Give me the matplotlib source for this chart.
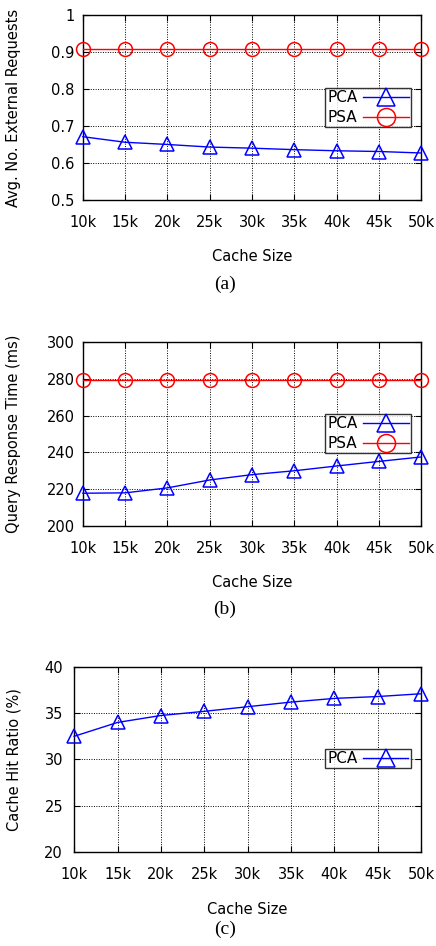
import matplotlib
matplotlib.use('Agg')
import matplotlib.pyplot as plt

cache_labels = ['10k', '15k', '20k', '25k', '30k', '35k', '40k', '45k', '50k']
cache_sizes = [10, 15, 20, 25, 30, 35, 40, 45, 50]

# (a) average number of external requests
ext_pca = [0.671, 0.656, 0.650, 0.643, 0.640, 0.636, 0.633, 0.631, 0.627]
ext_psa = [0.909, 0.909, 0.909, 0.909, 0.909, 0.909, 0.909, 0.909, 0.909]

# (b) query response time (ms)
qrt_pca = [217.8, 218.0, 220.7, 225.0, 227.9, 230.0, 232.6, 235.1, 237.5]
qrt_psa = [279.5, 279.5, 279.5, 279.5, 279.5, 279.5, 279.5, 279.5, 279.5]

# (c) cache hit ratio (%)
hit_pca = [32.5, 34.0, 34.75, 35.2, 35.7, 36.2, 36.6, 36.8, 37.1]

BLUE = '#0000ff'
RED = '#ff0000'

plt.rcParams['font.family'] = ['DejaVu Sans']

fig = plt.figure(figsize=(4.36, 9.46), dpi=100)


def style_axes(ax, ylim, yticks, ypad):
    ax.set_xlim(10, 50)
    ax.set_xticks(cache_sizes)
    ax.set_xticklabels(cache_labels)
    ax.set_ylim(*ylim)
    ax.set_yticks(yticks)
    ax.grid(True, color='black', linestyle=(0, (1, 1.5)), linewidth=0.7)
    ax.tick_params(direction='in', top=True, right=True, length=4,
                   labelsize=10.5, width=0.8)
    ax.tick_params(axis='x', pad=11)
    ax.tick_params(axis='y', pad=ypad)
    for s in ax.spines.values():
        s.set_linewidth(1.0)
    ax.set_xlabel('Cache Size', fontsize=10.5)
    ax.xaxis.set_label_coords(0.5, -0.265)


def add_legend(ax, top):
    leg = ax.legend(loc='upper right', bbox_to_anchor=(0.97, top),
                    markerfirst=False, frameon=True, fancybox=False,
                    edgecolor='black', fontsize=11, handlelength=3.0,
                    handletextpad=0.35, borderpad=0.15, labelspacing=0.3,
                    borderaxespad=0.0, markerscale=1.3)
    leg.get_frame().set_linewidth(1.0)
    return leg


# panel (a)
ax1 = fig.add_axes([0.190, 0.7886, 0.776, 0.1956])
ax1.plot(cache_sizes, ext_pca, color=BLUE, lw=1.0, marker='^', ms=10,
         mfc='none', mec=BLUE, mew=1.1, label='PCA', clip_on=False, zorder=3)
ax1.plot(cache_sizes, ext_psa, color=RED, lw=1.0, marker='o', ms=10,
         mfc='none', mec=RED, mew=1.1, label='PSA', clip_on=False, zorder=3)
style_axes(ax1, (0.5, 1.0), [0.5, 0.6, 0.7, 0.8, 0.9, 1.0], 6)
ax1.set_yticklabels(['0.5', '0.6', '0.7', '0.8', '0.9', '1'])
ax1.set_ylabel('Avg. No. External Requests', fontsize=10.5)
ax1.yaxis.set_label_coords(-0.183, 0.5)
add_legend(ax1, 0.605)
fig.text(0.516, 1 - 284 / 946, '(a)', ha='center', va='center',
         family='Liberation Serif', fontsize=14)

# panel (b)
ax2 = fig.add_axes([0.190, 0.444, 0.776, 0.1945])
ax2.plot(cache_sizes, qrt_pca, color=BLUE, lw=1.0, marker='^', ms=10,
         mfc='none', mec=BLUE, mew=1.1, label='PCA', clip_on=False, zorder=3)
ax2.plot(cache_sizes, qrt_psa, color=RED, lw=1.0, marker='o', ms=10,
         mfc='none', mec=RED, mew=1.1, label='PSA', clip_on=False, zorder=3)
style_axes(ax2, (200, 300), [200, 220, 240, 260, 280, 300], 6)
ax2.set_ylabel('Query Response Time (ms)', fontsize=10.5)
ax2.yaxis.set_label_coords(-0.183, 0.5)
add_legend(ax2, 0.608)
fig.text(0.516, 1 - 609 / 946, '(b)', ha='center', va='center',
         family='Liberation Serif', fontsize=14)

# panel (c)
ax3 = fig.add_axes([0.170, 0.0994, 0.796, 0.1956])
ax3.plot(cache_sizes, hit_pca, color=BLUE, lw=1.0, marker='^', ms=10,
         mfc='none', mec=BLUE, mew=1.1, label='PCA', clip_on=False, zorder=3)
style_axes(ax3, (20, 40), [20, 25, 30, 35, 40], 8)
ax3.set_ylabel('Cache Hit Ratio (%)', fontsize=10.5)
ax3.yaxis.set_label_coords(-0.153, 0.5)
ax3.xaxis.set_label_coords(0.5, -0.27)
add_legend(ax3, 0.557)
fig.text(0.516, 1 - 929 / 946, '(c)', ha='center', va='center',
         family='Liberation Serif', fontsize=14)

fig.savefig('out.png', dpi=100)
